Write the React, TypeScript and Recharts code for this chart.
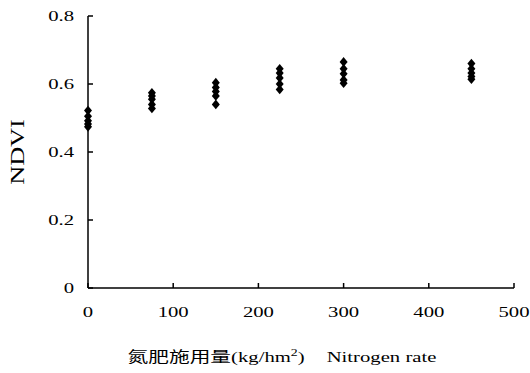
import React from 'react';
import { ScatterChart, Scatter, XAxis, YAxis } from 'recharts';

const nitrogenRates = [0, 75, 150, 225, 300, 450];
const ndviValues: number[][] = [
  [0.522, 0.505, 0.492, 0.482, 0.474],
  [0.574, 0.565, 0.555, 0.54, 0.528],
  [0.604, 0.59, 0.578, 0.565, 0.54],
  [0.645, 0.632, 0.618, 0.6, 0.584],
  [0.665, 0.645, 0.63, 0.612, 0.602],
  [0.66, 0.645, 0.632, 0.622, 0.614],
];
const xTicks = [0, 100, 200, 300, 400, 500];
const yTicks = [0, 0.2, 0.4, 0.6, 0.8];

const data = nitrogenRates.flatMap((n, i) => ndviValues[i].map((v) => ({ x: n, y: v })));

const FONT = 'Liberation Serif';
const SX = 1.38;

const Diamond = (props: any) => {
  const { cx, cy } = props;
  const w = 4;
  const h = 4.8;
  return (
    <path
      d={`M${cx},${cy - h}L${cx + w},${cy}L${cx},${cy + h}L${cx - w},${cy}Z`}
      fill="#000"
    />
  );
};

const fmtY = (v: number) => (v === 0 ? '0' : v.toFixed(1));

const YTick = (props: any) => {
  const { x, y, payload } = props;
  return (
    <text
      transform={`translate(${x},${y}) scale(${SX},1)`}
      x={0}
      y={0}
      dy="0.35em"
      textAnchor="end"
      fontSize={15}
      fontFamily={FONT}
      fill="#000"
    >
      {fmtY(payload.value)}
    </text>
  );
};

const XTick = (props: any) => {
  const { x, y, payload } = props;
  return (
    <text
      transform={`translate(${x},${y}) scale(${SX},1)`}
      x={0}
      y={0}
      textAnchor="middle"
      fontSize={15}
      fontFamily={FONT}
      fill="#000"
    >
      {payload.value}
    </text>
  );
};

export default function App() {
  return (
    <div style={{ position: 'absolute', left: 0, top: 0, background: '#fff', fontFamily: FONT }}>
      <ScatterChart
        width={530}
        height={373}
        margin={{ top: 16, right: 16, bottom: 55, left: 28 }}
      >
        <XAxis
          type="number"
          dataKey="x"
          domain={[0, 500]}
          ticks={xTicks}
          interval={0}
          height={30}
          tickSize={-5}
          tickMargin={34}
          axisLine={{ stroke: '#000', strokeWidth: 1.5 }}
          tickLine={{ stroke: '#000', strokeWidth: 1.5 }}
          tick={<XTick />}
        />
        <YAxis
          type="number"
          dataKey="y"
          domain={[0, 0.8]}
          ticks={yTicks}
          interval={0}
          width={60}
          tickSize={-5}
          tickMargin={19}
          axisLine={{ stroke: '#000', strokeWidth: 1.5 }}
          tickLine={{ stroke: '#000', strokeWidth: 1.5 }}
          tick={<YTick />}
        />
        <Scatter data={data} shape={<Diamond />} isAnimationActive={false} />
      </ScatterChart>
      <svg
        width={530}
        height={373}
        style={{ position: 'absolute', left: 0, top: 0, pointerEvents: 'none' }}
      >
        <text
          transform={`translate(24,152) rotate(-90) scale(${SX},1)`}
          x={0}
          y={0}
          textAnchor="middle"
          fontSize={19}
          fontFamily={FONT}
          fill="#000"
        >
          NDVI
        </text>
        <text
          transform={`translate(282,362) scale(${SX},1)`}
          x={0}
          y={0}
          textAnchor="middle"
          fontSize={15}
          fontFamily={FONT}
          fill="#000"
        >
          <tspan fontFamily="Noto Sans CJK SC" fontSize={15}>氮肥施用量</tspan>
          <tspan>(kg/hm</tspan>
          <tspan fontSize={10} dy={-6}>2</tspan>
          <tspan dy={6}>)</tspan>
          <tspan dx={16}>Nitrogen rate</tspan>
        </text>
      </svg>
    </div>
  );
}
